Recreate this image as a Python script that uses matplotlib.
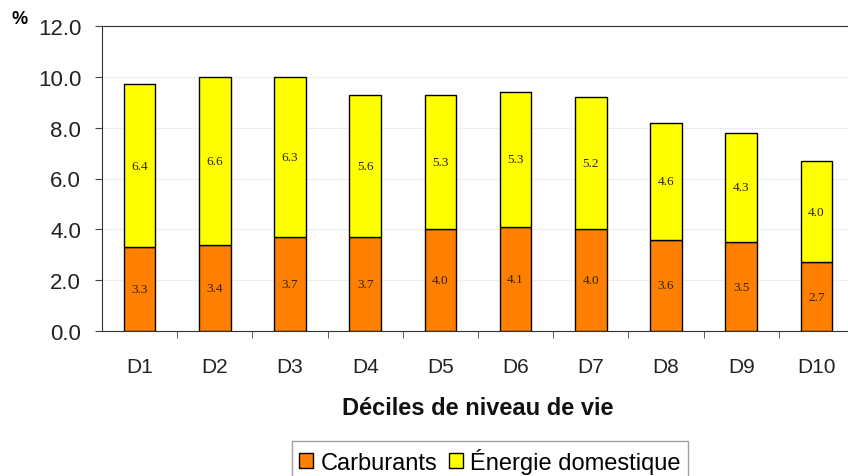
import matplotlib
matplotlib.use("Agg")
import matplotlib.pyplot as plt
from matplotlib.patches import Patch

categories = ["D1", "D2", "D3", "D4", "D5", "D6", "D7", "D8", "D9", "D10"]
carburants = [3.3, 3.4, 3.7, 3.7, 4.0, 4.1, 4.0, 3.6, 3.5, 2.7]
energie = [6.4, 6.6, 6.3, 5.6, 5.3, 5.3, 5.2, 4.6, 4.3, 4.0]
yticks = [0.0, 2.0, 4.0, 6.0, 8.0, 10.0, 12.0]

orange = "#FF8000"
yellow = "#FFFF00"

fig = plt.figure(figsize=(8.48, 4.77), dpi=100)
W, H = 848, 477
left, right, top, bottom = 102, 854, 27, 332
ax = fig.add_axes([left / W, 1 - bottom / H, (right - left) / W, (bottom - top) / H])

x = list(range(len(categories)))
bw = 0.42
ax.bar(x, carburants, width=bw, color=orange, edgecolor="black", linewidth=1.0, zorder=3)
ax.bar(x, energie, width=bw, bottom=carburants, color=yellow, edgecolor="black", linewidth=1.0, zorder=3)

for i in x:
    ax.text(i, carburants[i] / 2, f"{carburants[i]:.1f}", ha="center", va="center",
            family="Liberation Serif", fontsize=9.5, color="#332200", zorder=4)
    ax.text(i, carburants[i] + energie[i] / 2, f"{energie[i]:.1f}", ha="center", va="center",
            family="Liberation Serif", fontsize=9.5, color="#332200", zorder=4)

ax.set_xlim(-0.5, len(categories) - 0.5)
ax.set_ylim(0, 12)
ax.set_yticks(yticks)
ax.set_yticklabels([f"{v:.1f}" for v in yticks], family="Liberation Sans", fontsize=16, color="#222222")
ax.set_xticks(x)
ax.set_xticklabels(categories, family="Liberation Sans", fontsize=15, color="#222222")
ax.set_xticks([i + 0.5 for i in x[:-1]], minor=True)
ax.tick_params(axis="x", which="major", length=0, pad=19)
ax.tick_params(axis="x", which="minor", length=5, color="#444444")
ax.tick_params(axis="y", length=5, color="#444444", pad=10)
ax.yaxis.grid(True, color="#eeeeee", linewidth=0.8, zorder=0)
ax.spines["right"].set_visible(False)
ax.spines["top"].set_color("#333333")
ax.spines["left"].set_color("#333333")
ax.spines["bottom"].set_color("#333333")

ax.set_xlabel("Déciles de niveau de vie", family="Liberation Sans", fontsize=17,
              fontweight="bold", labelpad=14, color="#111111")
fig.text(20 / W, 1 - 20 / H, "%", family="Liberation Sans", fontsize=13,
         fontweight="bold", ha="center", va="center")

handles = [Patch(facecolor=orange, edgecolor="black", label="Carburants"),
           Patch(facecolor=yellow, edgecolor="black", label="Énergie domestique")]
leg = fig.legend(handles=handles, loc="center", bbox_to_anchor=(490 / W, 1 - 462 / H),
                 ncol=2, frameon=True, fancybox=False, edgecolor="#888888",
                 prop={"family": "Liberation Sans", "size": 17},
                 handlelength=0.6, handleheight=0.6, handletextpad=0.3,
                 columnspacing=0.5, borderpad=0.3)

fig.savefig("out.png", dpi=100)
